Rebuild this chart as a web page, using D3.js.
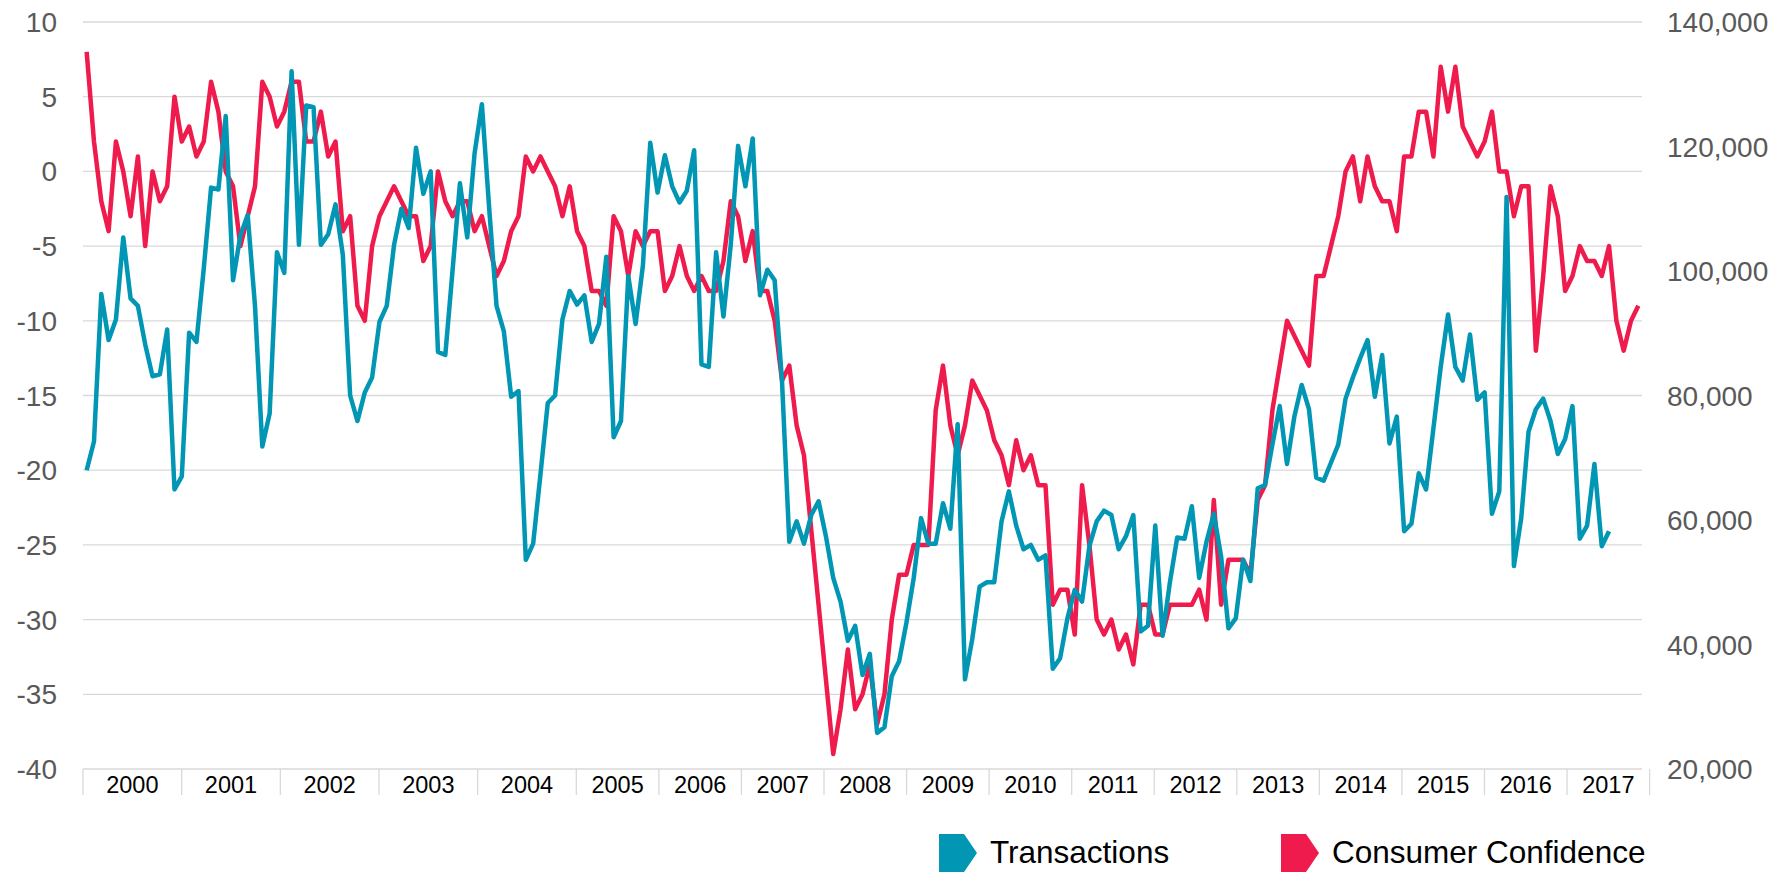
<!DOCTYPE html>
<html>
<head>
<meta charset="utf-8">
<script src="https://cdn.jsdelivr.net/npm/d3@7"></script>
<style>
  body { margin: 0; background: #fff; }
  svg { display: block; font-family: "Liberation Sans", Arial, sans-serif; }
</style>
</head>
<body>
<div id="chart"></div>
<script>
// monthly, Jan 2000 .. Sep 2017
const confidence = [
  8, 2, -2, -4, 2, 0, -3, 1, -5, 0, -2, -1,
  5, 2, 3, 1, 2, 6, 4, 0, -1, -5, -3, -1,
  6, 5, 3, 4, 6, 6, 2, 2, 4, 1, 2, -4,
  -3, -9, -10, -5, -3, -2, -1, -2, -3, -3, -6, -5,
  0, -2, -3, -2, -2, -4, -3, -5, -7, -6, -4, -3,
  1, 0, 1, 0, -1, -3, -1, -4, -5, -8, -8, -9,
  -3, -4, -7, -4, -5, -4, -4, -8, -7, -5, -7, -8,
  -7, -8, -8, -6, -2, -3, -6, -4, -8, -8, -10, -14,
  -13, -17, -19, -24, -29, -34, -39, -36, -32, -36, -35, -33,
  -37, -35, -30, -27, -27, -25, -25, -25, -16, -13, -17, -19,
  -17, -14, -15, -16, -18, -19, -21, -18, -20, -19, -21, -21,
  -29, -28, -28, -31, -21, -25, -30, -31, -30, -32, -31, -33,
  -29, -29, -31, -31, -29, -29, -29, -29, -28, -30, -22, -29,
  -26, -26, -26, -27, -22, -21, -16, -13, -10, -11, -12, -13,
  -7, -7, -5, -3, 0, 1, -2, 1, -1, -2, -2, -4,
  1, 1, 4, 4, 1, 7, 4, 7, 3, 2, 1, 2,
  4, 0, 0, -3, -1, -1, -12, -7, -1, -3, -8, -7,
  -5, -6, -6, -7, -5, -10, -12, -10, -9
];

// monthly, Jan 2000 .. May 2017
const transactions = [
  68000, 72600, 96300, 88900, 92200, 105400, 95600, 94400, 88200, 83100, 83400, 90600,
  64900, 67000, 90100, 88600, 100400, 113400, 113100, 124900, 98500, 105700, 109000, 94400,
  71800, 77100, 103000, 99700, 132100, 104200, 126600, 126300, 104200, 105900, 110700, 102600,
  80000, 75900, 80500, 82900, 91800, 94400, 104200, 110000, 106900, 119800, 112400, 116000,
  87000, 86500, 100200, 114100, 105400, 118900, 126800, 110000, 94400, 90300, 79800, 80700,
  53600, 56200, 67300, 78800, 80000, 92200, 96800, 94600, 96100, 88600, 91500, 102300,
  73300, 75900, 99200, 91500, 100900, 120600, 112600, 118600, 113600, 111000, 112900, 119400,
  85000, 84600, 103000, 92700, 104200, 120100, 113600, 121300, 96100, 100200, 98500, 82400,
  56500, 59800, 56200, 60800, 63000, 57400, 50700, 46900, 40600, 43000, 35100, 38500,
  25800, 26700, 34900, 37300, 43500, 50700, 60300, 56200, 56200, 62700, 58600, 75400,
  34400, 40900, 49300, 50000, 50000, 59800, 64600, 59100, 55300, 56000, 53600, 54300,
  36100, 37800, 44200, 48800, 46900, 55800, 59800, 61500, 60800, 55300, 57400, 60800,
  42100, 43000, 59100, 41400, 50000, 57200, 57000, 62200, 50700, 56500, 61000, 54100,
  42600, 44200, 53600, 50200, 65100, 65600, 72100, 78300, 69000, 76600, 81700, 77800,
  66800, 66300, 69200, 72100, 79500, 82900, 86000, 88900, 79800, 86500, 72300, 76600,
  58200, 59400, 67500, 64900, 74700, 84600, 93000, 84600, 82400, 89800, 79300, 80500,
  61000, 64600, 111900, 52600, 60300, 74200, 77800, 79500, 75900, 70600, 73000, 78300,
  57000, 59100, 69000, 55800, 58200
];

const years = ['2000', '2001', '2002', '2003', '2004', '2005', '2006', '2007', '2008',
  '2009', '2010', '2011', '2012', '2013', '2014', '2015', '2016', '2017'];
// width of each year label on the axis, in months (as drawn in the original)
const yearSpans = [13.48, 13.48, 13.48, 13.48, 13.48, 11.28, 11.28, 11.28, 11.28,
  11.28, 11.28, 11.28, 11.28, 11.28, 11.28, 11.28, 11.28, 11.28];

const leftTicks = [10, 5, 0, -5, -10, -15, -20, -25, -30, -35, -40];
const rightTicks = [140000, 120000, 100000, 80000, 60000, 40000, 20000];

const legend = [
  {label: 'Transactions', color: '#0096B4'},
  {label: 'Consumer Confidence', color: '#EE1B4C'}
];

const width = 1787, height = 880;
const margin = {top: 22, right: 145, bottom: 111, left: 83};

const svg = d3.select('#chart').append('svg')
  .attr('width', width)
  .attr('height', height);

const plotW = width - margin.left - margin.right;
const plotH = height - margin.top - margin.bottom;

const g = svg.append('g')
  .attr('transform', `translate(${margin.left},${margin.top})`);

//
// Scales
//

const nMonths = confidence.length;
const xScale = d3.scaleBand()
  .domain(d3.range(nMonths))
  .range([0, plotW])
  .padding(0);
const xMonth = d3.scaleLinear()
  .domain([0, nMonths])
  .range([0, plotW]);
const yLeft = d3.scaleLinear()
  .domain([-40, 10])
  .range([plotH, 0]);
const yRight = d3.scaleLinear()
  .domain([20000, 140000])
  .range([plotH, 0]);

const xPos = i => xScale(i) + xScale.bandwidth() / 2;

//
// Grid
//

g.append('g')
  .selectAll('line')
  .data(leftTicks)
  .join('line')
  .attr('x1', 0)
  .attr('x2', plotW)
  .attr('y1', d => yLeft(d))
  .attr('y2', d => yLeft(d))
  .attr('stroke', '#d9d9d9')
  .attr('stroke-width', 1.3);

//
// Axes
//

g.append('g')
  .selectAll('text')
  .data(leftTicks)
  .join('text')
  .attr('x', -26)
  .attr('y', d => yLeft(d))
  .attr('dy', '0.36em')
  .attr('text-anchor', 'end')
  .attr('fill', '#595959')
  .style('font-size', '28px')
  .text(d => d);

g.append('g')
  .selectAll('text')
  .data(rightTicks)
  .join('text')
  .attr('x', plotW + 25)
  .attr('y', d => yRight(d))
  .attr('dy', '0.36em')
  .attr('text-anchor', 'start')
  .attr('fill', '#595959')
  .style('font-size', '28px')
  .text(d => d3.format(',')(d));

// year separators and labels
const yearEdges = [0, ...Array.from(d3.cumsum(yearSpans))];
const xAxisG = g.append('g')
  .attr('transform', `translate(0,${plotH})`);

xAxisG.selectAll('line')
  .data(yearEdges)
  .join('line')
  .attr('x1', d => xMonth(d))
  .attr('x2', d => xMonth(d))
  .attr('y1', 0)
  .attr('y2', 26)
  .attr('stroke', '#d9d9d9')
  .attr('stroke-width', 1.3);

xAxisG.selectAll('text')
  .data(years)
  .join('text')
  .attr('x', (d, i) => xMonth((yearEdges[i] + yearEdges[i + 1]) / 2))
  .attr('y', 24)
  .attr('text-anchor', 'middle')
  .attr('fill', '#000')
  .style('font-size', '23.5px')
  .text(d => d);

//
// Lines
//

const confLine = d3.line()
  .x((d, i) => xPos(i))
  .y(d => yLeft(d));
const transLine = d3.line()
  .x((d, i) => xPos(i))
  .y(d => yRight(d));

g.append('path')
  .datum(confidence)
  .attr('fill', 'none')
  .attr('stroke', legend[1].color)
  .attr('stroke-width', 4.5)
  .attr('stroke-linejoin', 'round')
  .attr('d', confLine);

g.append('path')
  .datum(transactions)
  .attr('fill', 'none')
  .attr('stroke', legend[0].color)
  .attr('stroke-width', 4.5)
  .attr('stroke-linejoin', 'round')
  .attr('d', transLine);

//
// Legend
//

const legendX = [939, 1281];
const legendG = svg.append('g')
  .attr('transform', 'translate(0,834)');

const items = legendG.selectAll('g')
  .data(legend)
  .join('g')
  .attr('transform', (d, i) => `translate(${legendX[i]},0)`);

items.append('path')
  .attr('d', 'M0,0 H25 L38,19 L25,38 H0 Z')
  .attr('fill', d => d.color);

items.append('text')
  .attr('x', 51)
  .attr('y', 29)
  .attr('fill', '#000')
  .style('font-size', '31.5px')
  .text(d => d.label);
</script>
</body>
</html>
